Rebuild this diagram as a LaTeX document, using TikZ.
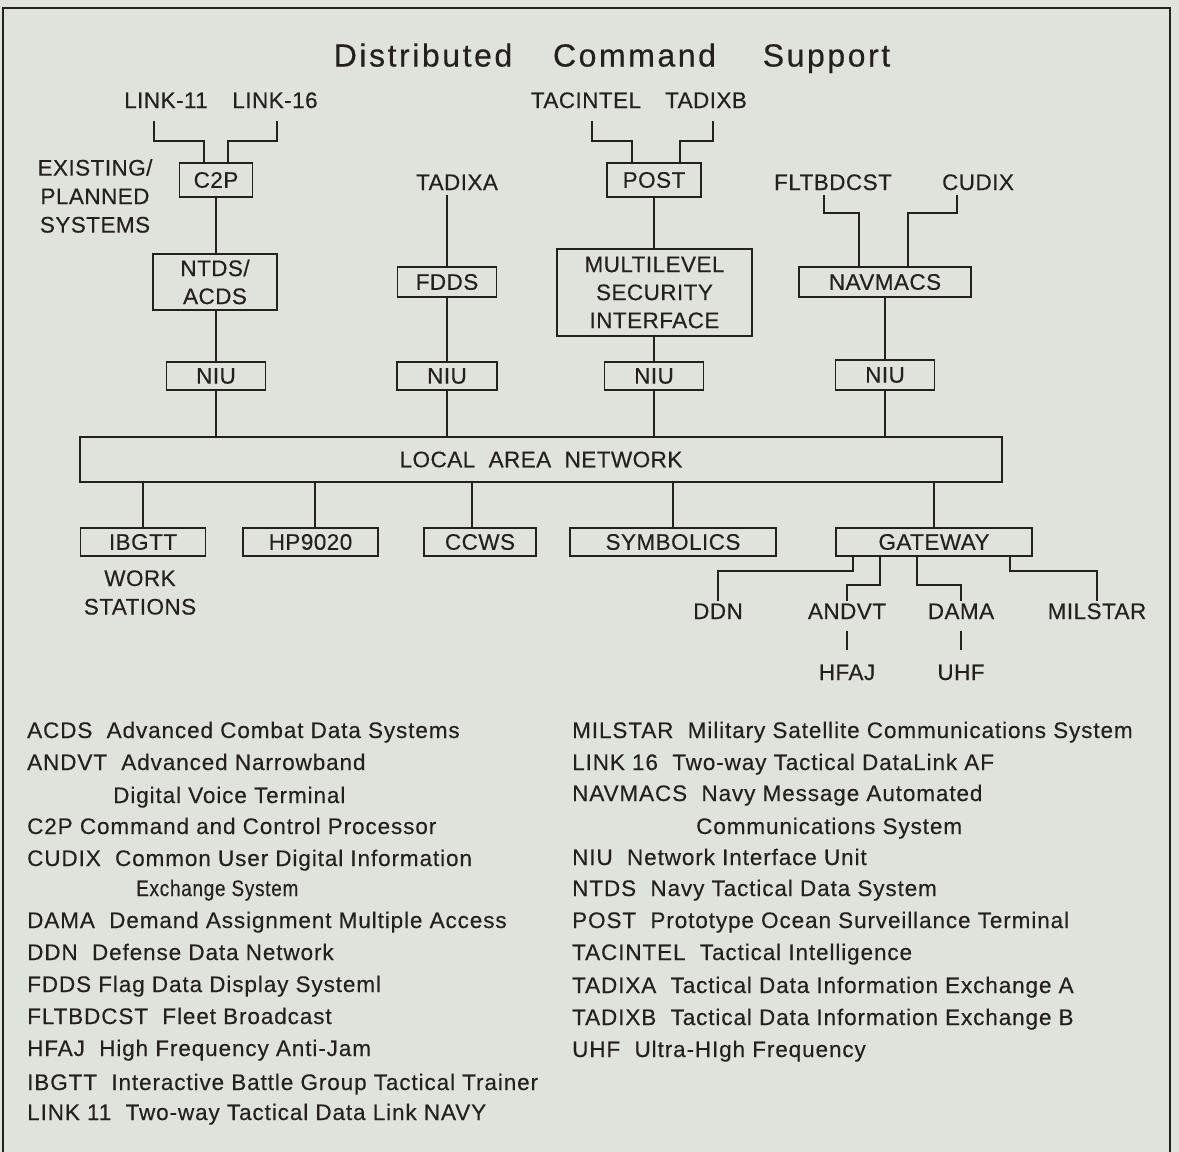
\documentclass[tikz,border=0pt]{standalone}
\usepackage{fontspec}
\setmainfont{Liberation Sans}
\newfontfamily\lblfont[LetterSpace=2,FakeBold=0.3]{Liberation Sans}
\newfontfamily\legfont[LetterSpace=4,FakeBold=0.3]{Liberation Sans}
\newfontfamily\ttlfont[LetterSpace=8,FakeBold=0.4]{Liberation Sans}
\definecolor{paper}{RGB}{224,226,220}
\definecolor{ink}{RGB}{36,32,30}
\begin{document}
\begin{tikzpicture}[x=1pt,y=-1pt,
  wire/.style={draw=ink,line width=1.8pt},
  box/.style={draw=ink,line width=1.8pt,inner sep=0pt,text=ink,align=center,font=\lblfont\fontsize{22.5}{28}\selectfont},
  lbl/.style={anchor=base,inner sep=2pt,text=ink,align=center,font=\lblfont\fontsize{22.5}{28.5}\selectfont},
  mlbl/.style={inner sep=0pt,text=ink,align=center,font=\lblfont\fontsize{22.5}{28.5}\selectfont},
  leg/.style={anchor=base west,inner sep=0pt,text=ink,font=\legfont\fontsize{22.5}{26}\selectfont},
  ttl/.style={anchor=base,inner sep=0pt,text=ink,font=\ttlfont\fontsize{32}{36}\selectfont}]

\fill[paper] (0,0) rectangle (1179,1152);
\useasboundingbox (0,0) rectangle (1179,1152);
\draw[ink,line width=2.4pt] (3,1152) -- (3,8) -- (1170,8) -- (1170,1152);

% title
\node[ttl] (t1) at (423,66.5) {Distributed};
\node[ttl] (t2) at (634.5,66.5) {Command};
\node[ttl] (t3) at (826.5,66.5) {Support};

% top labels
\node[lbl] (link11) at (166,108) {LINK-11};
\node[lbl] (link16) at (275,108) {LINK-16};
\node[mlbl] (exist) at (95,196) {EXISTING/\\PLANNED\\SYSTEMS};
\node[lbl] (tadixa) at (457,190) {TADIXA};
\node[lbl] (tacintel) at (586,108) {TACINTEL};
\node[lbl] (tadixb) at (706,108) {TADIXB};
\node[lbl] (fltbdcst) at (833,190) {FLTBDCST};
\node[lbl] (cudix) at (978,190) {CUDIX};

\coordinate (l11) at (154,121);
\coordinate (l16) at (277,121);
\coordinate (ta) at (447,195);
\coordinate (tc) at (592,121);
\coordinate (tb) at (713,121);
\coordinate (fb) at (824,195);
\coordinate (cu) at (957,195);

% boxes
\node[box,minimum width=73pt,minimum height=34pt] (c2p) at (216,180) {C2P};
\node[box,minimum width=124pt,minimum height=56pt] (ntds) at (215,282) {NTDS/\\ACDS};
\node[box,minimum width=99pt,minimum height=28pt] (niu1) at (216,376) {NIU};
\node[box,minimum width=99pt,minimum height=30pt] (fdds) at (447,282) {FDDS};
\node[box,minimum width=100pt,minimum height=28pt] (niu2) at (447,376) {NIU};
\node[box,minimum width=94pt,minimum height=34pt] (post) at (654,180) {POST};
\node[box,minimum width=195pt,minimum height=87pt] (mls) at (654.5,292.5) {MULTILEVEL\\SECURITY\\INTERFACE};
\node[box,minimum width=99pt,minimum height=28pt] (niu3) at (654,376) {NIU};
\node[box,minimum width=172pt,minimum height=30pt] (navmacs) at (885,282) {NAVMACS};
\node[box,minimum width=99pt,minimum height=30pt] (niu4) at (885,375) {NIU};
\node[box,minimum width=922pt,minimum height=45pt] (lan) at (541,459.5) {LOCAL\ \ AREA\ \ NETWORK};
\node[box,minimum width=125pt,minimum height=28pt] (ibgtt) at (143,542) {IBGTT};
\node[box,minimum width=135pt,minimum height=28pt] (hp) at (310.5,542) {HP9020};
\node[box,minimum width=112pt,minimum height=28pt] (ccws) at (480,542) {CCWS};
\node[box,minimum width=206pt,minimum height=28pt] (symb) at (673,542) {SYMBOLICS};
\node[box,minimum width=196pt,minimum height=28pt] (gate) at (934,542) {GATEWAY};

\node[mlbl] (workst) at (140,592.5) {WORK\\STATIONS};

% gateway labels
\node[lbl] (ddn) at (718,619) {DDN};
\node[lbl] (andvt) at (847,619) {ANDVT};
\node[lbl] (dama) at (961,619) {DAMA};
\node[lbl] (milstar) at (1097,619) {MILSTAR};
\node[lbl] (hfaj) at (847,680) {HFAJ};
\node[lbl] (uhf) at (961,680) {UHF};

% top connectors
\draw[wire] (l11) -- ++(0,20) -| ([xshift=-12pt]c2p.north);
\draw[wire] (l16) -- ++(0,20) -| ([xshift=12pt]c2p.north);
\draw[wire] (c2p.south) -- (c2p.south |- ntds.north);
\draw[wire] (c2p.south |- ntds.south) -- (c2p.south |- niu1.north);
\draw[wire] (niu1.south) -- (niu1.south |- lan.north);

\draw[wire] (ta) -- (fdds.north);
\draw[wire] (fdds.south) -- (niu2.north);
\draw[wire] (niu2.south) -- (niu2.south |- lan.north);

\draw[wire] (tc) -- ++(0,20) -| ([xshift=-22pt]post.north);
\draw[wire] (tb) -- ++(0,20) -| ([xshift=26pt]post.north);
\draw[wire] (post.south) -- (post.south |- mls.north);
\draw[wire] (post.south |- mls.south) -- (niu3.north);
\draw[wire] (niu3.south) -- (niu3.south |- lan.north);

\draw[wire] (fb) -- ++(0,18) -| ([xshift=-26pt]navmacs.north);
\draw[wire] (cu) -- ++(0,18) -| ([xshift=23pt]navmacs.north);
\draw[wire] (navmacs.south) -- (niu4.north);
\draw[wire] (niu4.south) -- (niu4.south |- lan.north);

% LAN to stations
\draw[wire] (lan.south -| ibgtt.north) -- (ibgtt.north);
\draw[wire] ([xshift=4.5pt]hp.north |- lan.south) -- ([xshift=4.5pt]hp.north);
\draw[wire] ([xshift=-8pt]ccws.north |- lan.south) -- ([xshift=-8pt]ccws.north);
\draw[wire] (lan.south -| symb.north) -- (symb.north);
\draw[wire] (lan.south -| gate.north) -- (gate.north);

% gateway branches
\draw[wire] ([xshift=-81pt]gate.south) -- ++(0,14) -| (ddn.north);
\draw[wire] ([xshift=-54pt]gate.south) -- ++(0,28) -| (andvt.north);
\draw[wire] ([xshift=-17pt]gate.south) -- ++(0,28) -| (dama.north);
\draw[wire] ([xshift=76pt]gate.south) -- ++(0,14) -| (milstar.north);
\draw[wire,shorten <=10pt,shorten >=12pt] (andvt.south) -- (hfaj.north);
\draw[wire,shorten <=10pt,shorten >=12pt] (dama.south) -- (uhf.north);

% legend left
\node[leg] (lg1) at (27,738) {ACDS\ \ Advanced Combat Data Systems};
\node[leg] (lg2) at (27,770) {ANDVT\ \ Advanced Narrowband};
\node[leg] (lg3) at (113,803) {Digital Voice Terminal};
\node[leg] (lg4) at (27,834) {C2P Command and Control Processor};
\node[leg] (lg5) at (27,866) {CUDIX\ \ Common User Digital Information};
\node[leg] (lg6) at (136,896) {\scalebox{0.84}[1]{Exchange System}};
\node[leg] (lg7) at (27,928) {DAMA\ \ Demand Assignment Multiple Access};
\node[leg] (lg8) at (27,960) {DDN\ \ Defense Data Network};
\node[leg] (lg9) at (27,992) {FDDS Flag Data Display Systeml};
\node[leg] (lg10) at (27,1024) {FLTBDCST\ \ Fleet Broadcast};
\node[leg] (lg11) at (27,1056) {HFAJ\ \ High Frequency Anti-Jam};
\node[leg] (lg12) at (27,1090) {IBGTT\ \ Interactive Battle Group Tactical Trainer};
\node[leg] (lg13) at (27,1120) {LINK 11\ \ Two-way Tactical Data Link NAVY};

% legend right
\node[leg] (lr1) at (572,738) {MILSTAR\ \ Military Satellite Communications System};
\node[leg] (lr2) at (572,770) {LINK 16\ \ Two-way Tactical DataLink AF};
\node[leg] (lr3) at (572,801) {NAVMACS\ \ Navy Message Automated};
\node[leg] (lr4) at (696,834) {Communications System};
\node[leg] (lr5) at (572,865) {NIU\ \ Network Interface Unit};
\node[leg] (lr6) at (572,896) {NTDS\ \ Navy Tactical Data System};
\node[leg] (lr7) at (572,928) {POST\ \ Prototype Ocean Surveillance Terminal};
\node[leg] (lr8) at (572,960) {TACINTEL\ \ Tactical Intelligence};
\node[leg] (lr9) at (572,993) {TADIXA\ \ Tactical Data Information Exchange A};
\node[leg] (lr10) at (572,1025) {TADIXB\ \ Tactical Data Information Exchange B};
\node[leg] (lr11) at (572,1057) {UHF\ \ Ultra-HIgh Frequency};
\end{tikzpicture}
\end{document}
